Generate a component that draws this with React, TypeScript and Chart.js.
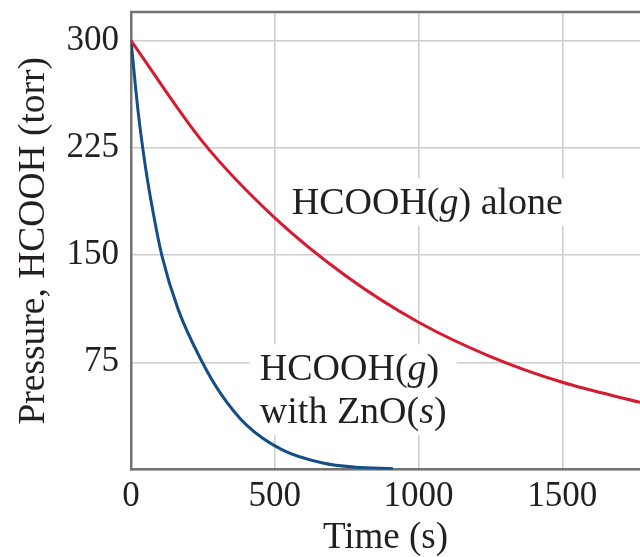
import { useEffect, useRef } from 'react';
import { Chart, registerables } from 'chart.js';

Chart.register(...registerables);

// ---- Data ----
const aloneTimes = [0, 250, 500, 750, 1000, 1250, 1500, 1770];
const alonePressures = [300, 229, 176, 135, 103, 79, 61, 47];

const znoTimes = [0, 25, 50, 75, 107, 164, 248, 309, 402, 528, 667, 780, 911];
const znoPressures = [300, 250, 212, 182, 150, 112, 75, 54, 31, 13.5, 4.5, 1.6, 0.6];

const xTickValues = [0, 500, 1000, 1500];
const yTickValues = [0, 75, 150, 225, 300];
const xTitle = 'Time (s)';
const yTitle = 'Pressure, HCOOH (torr)';

type Seg = { text: string; italic: boolean };
const labelAloneLines: Seg[][] = [
  [
    { text: 'HCOOH(', italic: false },
    { text: 'g', italic: true },
    { text: ') alone', italic: false },
  ],
];
const labelZnoLines: Seg[][] = [
  [
    { text: 'HCOOH(', italic: false },
    { text: 'g', italic: true },
    { text: ')', italic: false },
  ],
  [
    { text: 'with ZnO(', italic: false },
    { text: 's', italic: true },
    { text: ')', italic: false },
  ],
];
// anchor: x value of text left, y values of each line's baseline
const annotations = [
  { lines: labelAloneLines, x: 559, baselines: [178.6] },
  { lines: labelZnoLines, x: 448, baselines: [62.3, 32.4] },
];

const FONT = "'Liberation Serif', 'Times New Roman', serif";
const TEXT = '#231f20';
const AXIS = '#737373';
const GRID = '#cdcdcd';

const annotationPlugin = {
  id: 'textAnnotations',
  beforeDatasetsDraw(chart: any) {
    const { ctx, scales, chartArea } = chart;
    const x = scales.x;
    const y = scales.y;
    ctx.save();
    // top border of plot frame
    ctx.strokeStyle = AXIS;
    ctx.lineWidth = 2.5;
    ctx.beginPath();
    ctx.moveTo(chartArea.left - 1, chartArea.top);
    ctx.lineTo(chartArea.right, chartArea.top);
    ctx.stroke();

    const size = 38;
    for (const a of annotations) {
      const left = x.getPixelForValue(a.x);
      const bases = a.baselines.map((v: number) => y.getPixelForValue(v));
      let maxW = 0;
      a.lines.forEach((segs) => {
        let w = 0;
        for (const s of segs) {
          ctx.font = `${s.italic ? 'italic ' : ''}${size}px ${FONT}`;
          w += ctx.measureText(s.text).width;
        }
        maxW = Math.max(maxW, w);
      });
      const top = bases[0] - 36;
      const bottom = bases[bases.length - 1] + 12;
      ctx.fillStyle = '#ffffff';
      ctx.fillRect(left - 10, top, maxW + 20, bottom - top);
      ctx.fillStyle = TEXT;
      ctx.textBaseline = 'alphabetic';
      ctx.textAlign = 'left';
      a.lines.forEach((segs, i) => {
        let cx = left;
        for (const s of segs) {
          ctx.font = `${s.italic ? 'italic ' : ''}${size}px ${FONT}`;
          ctx.fillText(s.text, cx, bases[i]);
          cx += ctx.measureText(s.text).width;
        }
      });
    }
    ctx.restore();
  },
};

export default function App() {
  const canvasRef = useRef<HTMLCanvasElement | null>(null);

  useEffect(() => {
    if (!canvasRef.current) return;
    const chart = new Chart(canvasRef.current, {
      type: 'line',
      data: {
        datasets: [
          {
            label: 'HCOOH(g) alone',
            data: aloneTimes.map((t, i) => ({ x: t, y: alonePressures[i] })),
            borderColor: '#d71a30',
            borderWidth: 3,
            pointRadius: 0,
            cubicInterpolationMode: 'monotone',
            fill: false,
          },
          {
            label: 'HCOOH(g) with ZnO(s)',
            data: znoTimes.map((t, i) => ({ x: t, y: znoPressures[i] })),
            borderColor: '#154d86',
            borderWidth: 3,
            pointRadius: 0,
            cubicInterpolationMode: 'monotone',
            fill: false,
          },
        ],
      },
      options: {
        responsive: false,
        animation: false,
        events: [],
        layout: { padding: { top: 12, right: 0, left: 0, bottom: 0 } },
        plugins: {
          legend: { display: false },
          tooltip: { enabled: false },
        },
        scales: {
          x: {
            type: 'linear',
            min: 0,
            max: 1770,
            afterBuildTicks: (scale: any) => {
              scale.ticks = xTickValues.map((v) => ({ value: v }));
            },
            afterFit: (scale: any) => {
              scale.height = 87.5;
              scale.paddingRight = 0;
            },
            grid: { color: GRID, lineWidth: 1.5, drawTicks: false },
            border: { display: true, color: AXIS, width: 2.5 },
            ticks: {
              padding: 6,
              color: TEXT,
              font: { family: FONT, size: 35 },
              maxRotation: 0,
              callback: (v: any) => String(v),
            },
            title: {
              display: true,
              text: xTitle,
              color: TEXT,
              font: { family: FONT, size: 37, lineHeight: 1.0 },
              padding: { top: 0, bottom: 0 },
            },
          },
          y: {
            type: 'linear',
            min: 0,
            max: 320,
            afterBuildTicks: (scale: any) => {
              scale.ticks = yTickValues.map((v) => ({ value: v }));
            },
            afterFit: (scale: any) => {
              scale.width = 131;
              scale.paddingTop = 0;
              scale.paddingBottom = 0;
            },
            grid: { color: GRID, lineWidth: 1.5, drawTicks: false },
            border: { display: true, color: AXIS, width: 2.5 },
            ticks: {
              padding: 12,
              color: TEXT,
              font: { family: FONT, size: 35 },
              callback: (v: any) => (v === 0 ? '' : String(v)),
            },
            title: {
              display: true,
              text: yTitle,
              color: TEXT,
              font: { family: FONT, size: 37.5, lineHeight: 1.2 },
              padding: { top: 11.5, bottom: 0 },
            },
          },
        },
      },
      plugins: [annotationPlugin],
    } as any);
    return () => chart.destroy();
  }, []);

  return (
    <div style={{ position: 'fixed', left: 0, top: 0, width: 640, height: 557, background: '#fff' }}>
      <canvas ref={canvasRef} width={640} height={557} style={{ display: 'block' }} />
    </div>
  );
}
